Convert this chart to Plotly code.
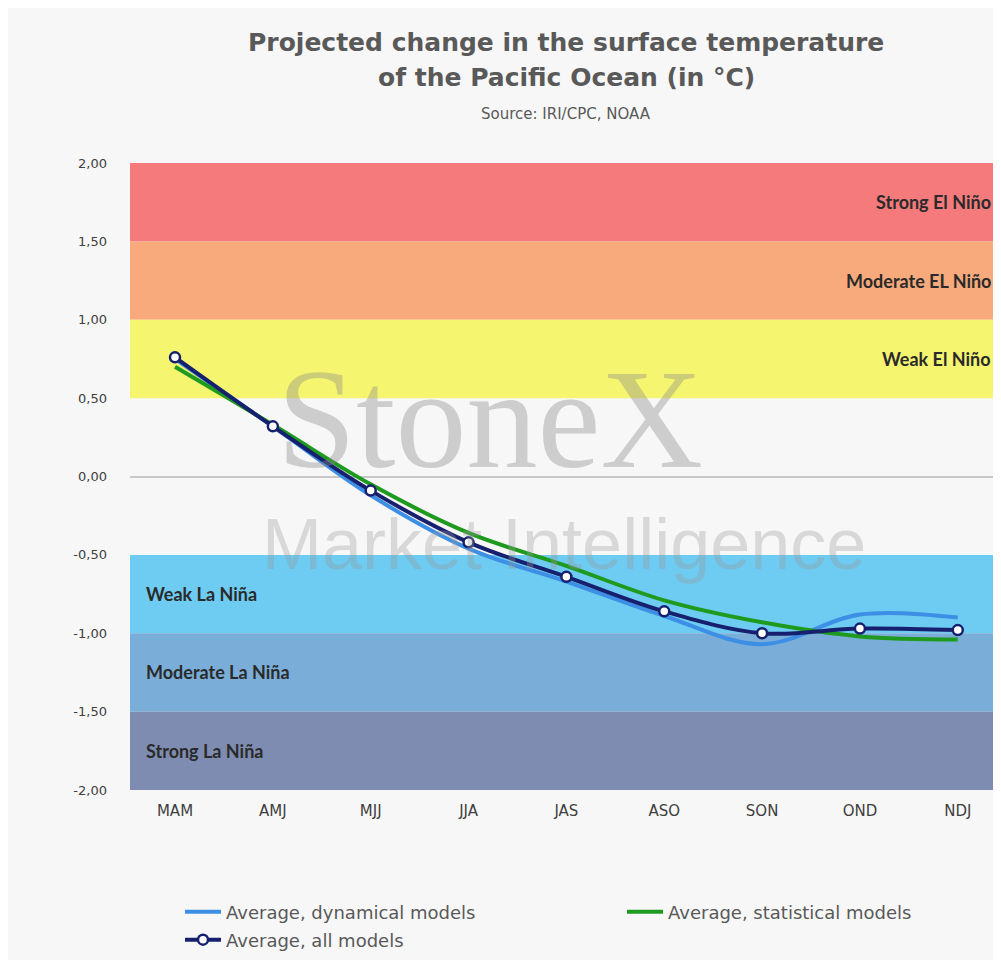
import plotly.graph_objects as go

seasons = ["MAM", "AMJ", "MJJ", "JJA", "JAS", "ASO", "SON", "OND", "NDJ"]
dynamical = [0.75, 0.32, -0.12, -0.46, -0.67, -0.89, -1.07, -0.88, -0.90]
statistical = [0.70, 0.33, -0.05, -0.36, -0.57, -0.79, -0.93, -1.02, -1.04]
all_models = [0.76, 0.32, -0.09, -0.42, -0.64, -0.86, -1.00, -0.97, -0.98]

y_tick_vals = [-2, -1.5, -1, -0.5, 0, 0.5, 1, 1.5, 2]
y_tick_text = ["-2,00", "-1,50", "-1,00", "-0,50", "0,00", "0,50", "1,00", "1,50", "2,00"]

bands_low = [1.5, 1.0, 0.5, -1.0, -1.5, -2.0]
bands_high = [2.0, 1.5, 1.0, -0.5, -1.0, -1.5]
bands_color = ["#f57a7b", "#f8aa7c", "#f5f56f", "#6ecbf1", "#7aaed9", "#7e8cb1"]
bands_label = ["Strong El Niño", "Moderate EL Niño", "Weak El Niño",
               "Weak La Niña", "Moderate La Niña", "Strong La Niña"]

W, H = 985, 952
L, T, B = 122, 155, 170
PW = W - L
PH = H - T - B


def px(page_x):
    return (page_x - 8 - L) / PW


def py(page_y):
    return (H - B + 8 - page_y) / PH


fig = go.Figure()

fig.add_trace(go.Scatter(x=seasons, y=dynamical, mode="lines",
                         name="Average, dynamical models", legend="legend",
                         line=dict(color="#3c8fe4", width=4, shape="spline")))
fig.add_trace(go.Scatter(x=seasons, y=statistical, mode="lines",
                         name="Average, statistical models", legend="legend2",
                         line=dict(color="#1e9a1e", width=4, shape="spline")))
fig.add_trace(go.Scatter(x=seasons, y=all_models, mode="lines+markers",
                         name="Average, all models", legend="legend3",
                         line=dict(color="#16206e", width=4, shape="spline"),
                         marker=dict(symbol="circle", size=10, color="white",
                                     line=dict(color="#16206e", width=2.5))))

shapes = []
annotations = []
lab_font = dict(family="Lato", size=18, color="#2a2a2a")
for lo, hi, col, lab in zip(bands_low, bands_high, bands_color, bands_label):
    shapes.append(dict(type="rect", xref="paper", yref="y", x0=0, x1=1,
                       y0=lo, y1=hi, fillcolor=col, line_width=0, layer="below"))
    if lo >= 0:
        annotations.append(dict(x=1.0, xref="paper", y=(lo + hi) / 2, yref="y",
                                text="<b>" + lab + "</b>", showarrow=False,
                                xanchor="right", font=lab_font))
    else:
        annotations.append(dict(x=px(144), xref="paper", y=(lo + hi) / 2, yref="y",
                                text="<b>" + lab + "</b>", showarrow=False,
                                xanchor="left", font=lab_font))

# watermark
annotations.append(dict(x=px(490), xref="paper", y=0.37, yref="y",
                        text="StoneX", showarrow=False, opacity=0.38,
                        font=dict(family="Liberation Serif", size=142, color="#8a8a8a")))
annotations.append(dict(x=px(564), xref="paper", y=-0.43, yref="y",
                        text="Market Intelligence", showarrow=False, opacity=0.33,
                        font=dict(family="Liberation Sans", size=72, color="#9a9a9a")))

# title
title_font = dict(family="DejaVu Sans", size=25, color="#595959")
annotations.append(dict(x=px(566), xref="paper", y=py(42), yref="paper", yanchor="middle",
                        text="<b>Projected change in the surface temperature</b>",
                        showarrow=False, font=title_font))
annotations.append(dict(x=px(566), xref="paper", y=py(78), yref="paper", yanchor="middle",
                        text="<b>of the Pacific Ocean (in °C)</b>",
                        showarrow=False, font=title_font))
annotations.append(dict(x=px(566), xref="paper", y=py(114), yref="paper", yanchor="middle",
                        text="Source: IRI/CPC, NOAA", showarrow=False,
                        font=dict(family="DejaVu Sans", size=15, color="#595959")))

leg_font = dict(family="DejaVu Sans", size=18, color="#595959")
leg_common = dict(orientation="h", xanchor="left", yanchor="middle",
                  bgcolor="rgba(0,0,0,0)", font=leg_font, itemwidth=36)

fig.update_layout(
    width=W, height=H,
    margin=dict(l=L, r=0, t=T, b=B),
    paper_bgcolor="#f7f7f7", plot_bgcolor="#f7f7f7",
    shapes=shapes, annotations=annotations,
    showlegend=True,
    legend=dict(x=px(180), y=py(912), **leg_common),
    legend2=dict(x=px(622), y=py(912), **leg_common),
    legend3=dict(x=px(180), y=py(940), **leg_common),
    xaxis=dict(range=[-0.46, 8.36], showgrid=False, zeroline=False, showline=False,
               ticks="", ticklabelstandoff=10,
               tickfont=dict(family="DejaVu Sans", size=15, color="#404040"),
               fixedrange=True),
    yaxis=dict(range=[-2.0, 2.0], tickvals=y_tick_vals, ticktext=y_tick_text,
               showgrid=False, zeroline=True, zerolinecolor="#c8c8c8",
               zerolinewidth=1.5, showline=False, ticks="", ticklabelstandoff=22,
               tickfont=dict(family="DejaVu Sans", size=13, color="#404040")),
)

fig.write_html("out.html")
